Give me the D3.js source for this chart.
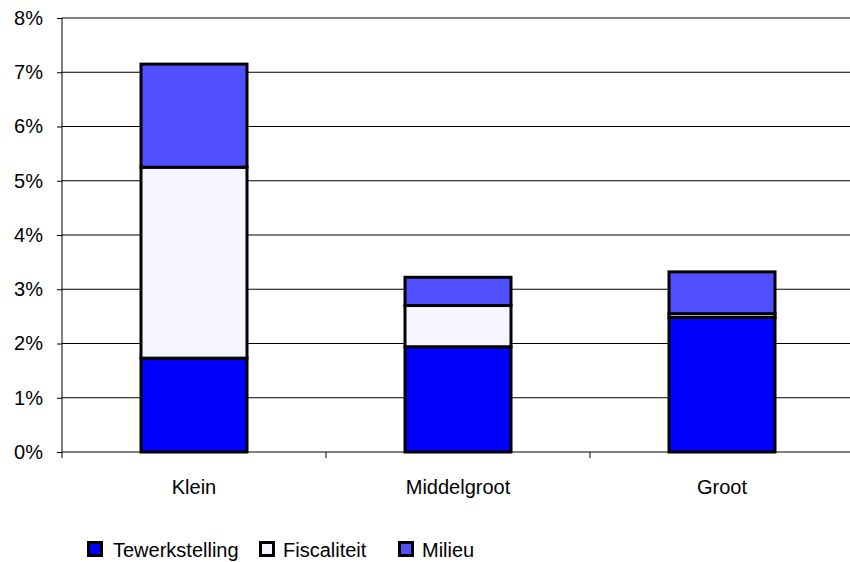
<!DOCTYPE html>
<html><head><meta charset="utf-8">
<script src="https://cdn.jsdelivr.net/npm/d3@7"></script>
<style>body{margin:0;background:#fff}svg{display:block}text{font-family:"Liberation Sans",Arial,sans-serif;fill:#000}</style>
</head><body><svg id="c" width="850" height="562"></svg>
<script>
const categories = ["Klein", "Middelgroot", "Groot"];
const seriesNames = ["Tewerkstelling", "Fiscaliteit", "Milieu"];
const tewerkstelling = [1.73, 1.94, 2.48];
const fiscaliteit = [3.52, 0.76, 0.07];
const milieu = [1.90, 0.52, 0.77];
const seriesColors = ["#0000FF", "#F5F5FF", "#5050FF"];
const yTicks = [0, 1, 2, 3, 4, 5, 6, 7, 8];

(function () {
const svg = d3.select("#c");
const pLeft = 62, pRight = 854, pTop = 18, pBottom = 452;
const fs = 20;
const xb = d3.scaleBand().domain(categories).range([pLeft, pRight]);
const y = d3.scaleLinear().domain([0, 8]).range([pBottom, pTop]);

// gridlines
svg.append("g").selectAll("line").data(yTicks).join("line")
  .attr("x1", pLeft).attr("x2", pRight)
  .attr("y1", d => y(d)).attr("y2", d => y(d))
  .attr("stroke", "#000").attr("stroke-width", 1);

// y axis
const ya = svg.append("g").attr("transform", `translate(${pLeft},0)`)
  .call(d3.axisLeft(y).tickValues(yTicks).tickSize(5).tickPadding(14).tickFormat(d => d + "%"));
ya.select(".domain").attr("d", `M0,${pTop}V${pBottom + 6}`);
ya.attr("font-size", fs).attr("font-family", "Liberation Sans, Arial, sans-serif");

// x axis
const xa = svg.append("g").attr("transform", `translate(0,${pBottom})`)
  .call(d3.axisBottom(xb).tickSize(0).tickPadding(28));
xa.select(".domain").remove();
xa.attr("font-size", fs).attr("font-family", "Liberation Sans, Arial, sans-serif");
// category boundary ticks
svg.append("g").selectAll("line").data(categories.slice(1)).join("line")
  .attr("x1", d => xb(d)).attr("x2", d => xb(d))
  .attr("y1", pBottom).attr("y2", pBottom + 6)
  .attr("stroke", "#000").attr("stroke-width", 1);

// stacked data
const rows = categories.map((c, i) => ({cat: c, Tewerkstelling: tewerkstelling[i], Fiscaliteit: fiscaliteit[i], Milieu: milieu[i]}));
const stack = d3.stack().keys(seriesNames)(rows);
const bw = 106;
svg.append("g").selectAll("g").data(stack).join("g")
  .attr("fill", (d, i) => seriesColors[i])
  .selectAll("rect").data(d => d).join("rect")
  .attr("x", d => xb(d.data.cat) + xb.bandwidth() / 2 - bw / 2)
  .attr("width", bw)
  .attr("y", d => y(d[1]))
  .attr("height", d => y(d[0]) - y(d[1]))
  .attr("stroke", "#000").attr("stroke-width", 3);

// legend
const legX = [87, 259, 398];
const legT = [113, 283, 422];
const lg = svg.append("g").selectAll("g").data(seriesNames).join("g");
lg.append("rect").attr("x", (d, i) => legX[i] + 1.5).attr("y", 542.5).attr("width", 13).attr("height", 13)
  .attr("fill", (d, i) => seriesColors[i]).attr("stroke", "#000").attr("stroke-width", 3);
lg.append("text").attr("x", (d, i) => legT[i]).attr("y", 557).attr("font-size", fs).text(d => d);
})();
</script></body></html>
